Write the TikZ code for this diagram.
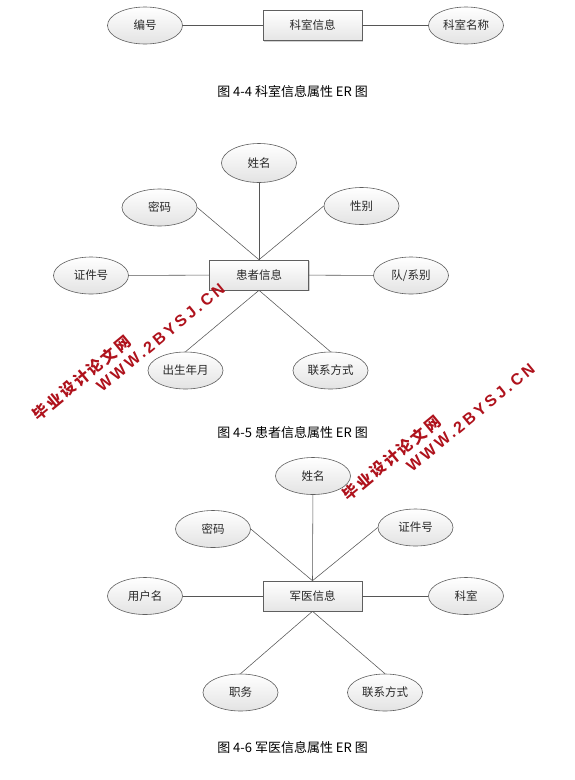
\documentclass[tikz,border=0pt]{standalone}
\usepackage{fontspec}
\setmainfont{Noto Sans CJK SC}
\newfontfamily\wmcjk[LetterSpace=14]{Noto Sans CJK SC}
\newfontfamily\wmlat[LetterSpace=19]{Liberation Sans}
\usetikzlibrary{shapes.geometric,shadows}
\definecolor{wmred}{RGB}{175,18,28}
\definecolor{edge}{RGB}{95,95,95}
\definecolor{txt}{RGB}{40,40,40}
\begin{document}
\begin{tikzpicture}[x=1pt,y=-1pt,
  attr/.style={ellipse, draw=edge, line width=0.6pt, top color=white, bottom color=gray!22,
    minimum width=75pt, minimum height=37pt, inner sep=0pt, text=txt,
    font=\fontsize{11.5}{12}\selectfont},
  ent/.style={rectangle, draw=edge, line width=0.6pt, top color=white, bottom color=gray!20,
    minimum width=99pt, minimum height=30pt, inner sep=0pt, text=txt,
    drop shadow={shadow xshift=1.2pt, shadow yshift=-1.2pt, opacity=0.35, fill=gray},
    font=\fontsize{11.5}{12}\selectfont},
  conn/.style={draw=edge!90!black, line width=0.55pt},
  captext/.style={inner sep=0pt, font=\fontsize{13}{14}\selectfont},
  wmc/.style={inner sep=0pt, text=wmred, rotate=39.6, font=\wmcjk\bfseries\fontsize{15.5}{16}\selectfont},
  wml/.style={inner sep=0pt, text=wmred, rotate=39.5, font=\wmlat\bfseries\fontsize{16}{17}\selectfont}]
\fill[white] (0,0) rectangle (574,780);
\useasboundingbox (0,0) rectangle (574,780);

% ---------- Figure 4-4 ----------
\node[ent]  (kr) at (312.5,25.5) {科室信息};
\node[attr] (bh) at (145,25.5) {编号};
\node[attr] (km) at (466,25.5) {科室名称};
\draw[conn] (bh) -- (kr);
\draw[conn] (kr) -- (km);
\node[captext] (c1) at (292.5,92) {图 4-4 科室信息属性 ER 图};

% ---------- Figure 4-5 ----------
\node[ent]  (hz) at (259,275) {患者信息};
\node[attr, minimum height=39pt] (xm) at (259,163) {姓名};
\node[attr] (mm) at (159.5,207.5) {密码};
\node[attr] (xb) at (361.5,206) {性别};
\node[attr] (zj) at (91,275.5) {证件号};
\node[attr] (dx) at (411,275.5) {队/系别};
\node[attr] (cs) at (185.5,370.5) {出生年月};
\node[attr] (lx) at (330.5,370.5) {联系方式};
\draw[conn] (xm) -- (hz.north);
\draw[conn] (mm.east) -- (hz.north);
\draw[conn] (xb.west) -- (hz.north);
\draw[conn] (zj) -- (hz);
\draw[conn] (hz) -- (dx);
\draw[conn] (hz.south) -- (cs.north);
\draw[conn] (hz.south) -- (lx.north);
\node[captext] (c2) at (292.5,433) {图 4-5 患者信息属性 ER 图};

% ---------- Figure 4-6 ----------
\node[ent]  (jy) at (312.5,596) {军医信息};
\node[attr] (xm3) at (313,476) {姓名};
\node[attr] (mm3) at (213,529) {密码};
\node[attr] (zj3) at (415.5,527.5) {证件号};
\node[attr] (yh) at (145,596) {用户名};
\node[attr] (ks) at (466,596) {科室};
\node[attr] (zw) at (240.5,692.5) {职务};
\node[attr] (lx3) at (385,692.5) {联系方式};
\draw[conn] (xm3) -- (jy.north);
\draw[conn] (mm3.east) -- (jy.north);
\draw[conn] (zj3.west) -- (jy.north);
\draw[conn] (yh) -- (jy);
\draw[conn] (jy) -- (ks);
\draw[conn] (jy.south) -- (zw.north);
\draw[conn] (jy.south) -- (lx3.north);
\node[captext] (c3) at (292.5,748) {图 4-6 军医信息属性 ER 图};

% ---------- watermarks ----------
\node[wmc] (w1a) at (81.5,378) {毕业设计论文网};
\node[wml] (w1b) at (160.5,337.5) {WWW.2BYSJ.CN};
\node[wmc] (w2a) at (391.5,458) {毕业设计论文网};
\node[wml] (w2b) at (470.5,417.5) {WWW.2BYSJ.CN};
\end{tikzpicture}
\end{document}
